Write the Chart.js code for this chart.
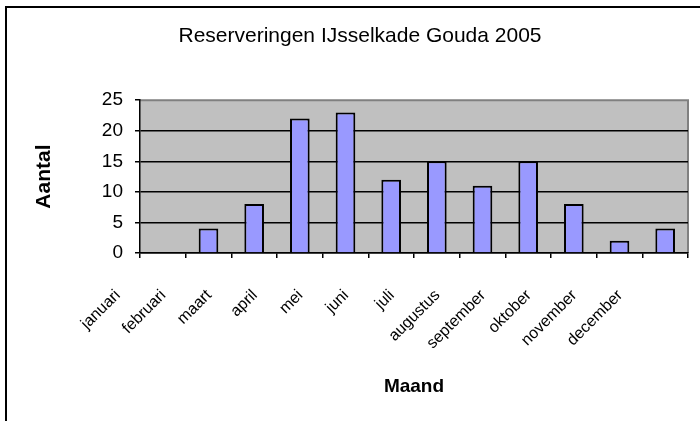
<!DOCTYPE html>
<html>
<head>
<meta charset="utf-8">
<script src="https://cdn.jsdelivr.net/npm/chart.js@4/dist/chart.umd.min.js"></script>
<style>
  html, body { margin: 0; padding: 0; background: #fff; }
  #wrap { width: 700px; height: 421px; }
</style>
</head>
<body>
<div id="wrap"><canvas id="reserveringenChart" width="700" height="421"></canvas></div>
<script>
const months = ["januari", "februari", "maart", "april", "mei", "juni", "juli",
  "augustus", "september", "oktober", "november", "december"];
const reserveringen = [0, 4, 8, 22, 23, 12, 15, 11, 15, 8, 2, 4];
const yTicks = [0, 5, 10, 15, 20, 25];

const FONT = "'Liberation Sans', Arial, sans-serif";

// grey plot area + the black frame round the chart object
const excelBackground = {
  id: "excelBackground",
  beforeDraw(chart) {
    const { ctx, chartArea: a } = chart;
    ctx.save();
    ctx.fillStyle = "#fff";
    ctx.fillRect(0, 0, chart.width, chart.height);
    ctx.fillStyle = "#000";
    ctx.fillRect(5, 6, 2, chart.height - 6);
    ctx.fillRect(5, 6, chart.width - 5, 2);
    ctx.fillStyle = "#c0c0c0";
    ctx.fillRect(a.left, a.top, a.right - a.left, a.bottom - a.top);
    ctx.strokeStyle = "#808080";
    ctx.lineWidth = 2;
    ctx.beginPath();
    ctx.moveTo(a.left, a.top);
    ctx.lineTo(a.right, a.top);
    ctx.lineTo(a.right, a.bottom);
    ctx.stroke();
    ctx.restore();
  },
};

const ctx = document.getElementById("reserveringenChart").getContext("2d");

new Chart(ctx, {
  type: "bar",
  data: {
    labels: months,
    datasets: [
      {
        label: "Reserveringen",
        data: reserveringen,
        backgroundColor: "#9999ff",
        borderColor: "#000",
        borderWidth: 2,
        barPercentage: 0.43,
        categoryPercentage: 1,
      },
    ],
  },
  options: {
    responsive: false,
    animation: false,
    layout: {
      padding: { left: 32, right: 12, top: 0, bottom: 0 },
    },
    plugins: {
      legend: { display: false },
      tooltip: { enabled: false },
      title: {
        display: true,
        text: "Reserveringen IJsselkade Gouda 2005",
        color: "#000",
        font: { family: FONT, size: 21, weight: "normal" },
        padding: { top: 24, bottom: 51 },
      },
    },
    scales: {
      y: {
        min: 0,
        max: 25,
        afterBuildTicks: (scale) => {
          scale.ticks = yTicks.map((v) => ({ value: v }));
        },
        afterFit: (scale) => {
          scale.width = 108;
        },
        border: { color: "#000", width: 1.5 },
        grid: {
          color: (c) => (c.tick && c.tick.value === 25 ? "rgba(0,0,0,0)" : "#000"),
          tickColor: "#000",
          tickLength: 5,
          lineWidth: 1.5,
        },
        ticks: {
          color: "#000",
          padding: 12,
          font: { family: FONT, size: 19 },
        },
        title: {
          display: true,
          text: "Aantal",
          color: "#000",
          font: { family: FONT, size: 21, weight: "bold" },
          padding: { top: 0, bottom: 0 },
        },
      },
      x: {
        afterFit: (scale) => {
          scale.height = 168;
          // rotated labels would otherwise pull the plot in from the right
          scale.paddingLeft = 0;
          scale.paddingRight = 0;
        },
        border: { color: "#000", width: 1.5 },
        grid: {
          offset: true,
          drawOnChartArea: false,
          tickColor: "#000",
          tickLength: 5,
          lineWidth: 1.5,
        },
        ticks: {
          color: "#000",
          autoSkip: false,
          minRotation: 45,
          maxRotation: 45,
          padding: 28,
          labelOffset: -45,
          font: { family: FONT, size: 16 },
        },
        title: {
          display: true,
          text: "Maand",
          color: "#000",
          font: { family: FONT, size: 19, weight: "bold" },
          padding: { top: 0, bottom: 23 },
        },
      },
    },
  },
  plugins: [excelBackground],
});
</script>
</body>
</html>
